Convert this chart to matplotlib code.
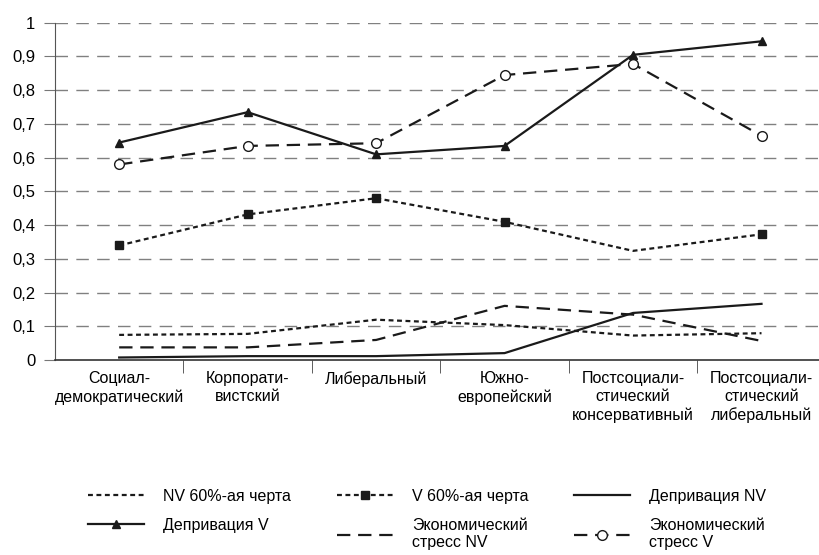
import numpy as np
import matplotlib
matplotlib.use('Agg')
import matplotlib.pyplot as plt
from matplotlib.ticker import FuncFormatter, FixedLocator

plt.rcParams['font.family'] = ['Liberation Sans', 'DejaVu Sans']

categories = ['Социал-\nдемократический', 'Корпорати-\nвистский', 'Либеральный',
              'Южно-\nевропейский', 'Постсоциали-\nстический\nконсервативный',
              'Постсоциали-\nстический\nлиберальный']

nv_60 = [0.075, 0.078, 0.12, 0.104, 0.073, 0.08]
v_60 = [0.34, 0.432, 0.48, 0.41, 0.324, 0.373]
depr_nv = [0.008, 0.012, 0.012, 0.021, 0.14, 0.167]
depr_v = [0.645, 0.735, 0.61, 0.635, 0.905, 0.945]
stress_nv = [0.038, 0.038, 0.06, 0.161, 0.135, 0.057]
stress_v = [0.58, 0.635, 0.643, 0.845, 0.878, 0.665]

x = np.arange(len(categories))

fig = plt.figure(figsize=(8.2, 5.55), dpi=100)
ax = fig.add_axes([0.067, 0.351, 0.94, 0.608])

lw = 1.6
dot = (0, (2.2, 1.6))
dash = (0, (6, 3.5))
c = '#1a1a1a'

l1, = ax.plot(x, nv_60, color=c, lw=lw, ls=dot, label='NV 60%-ая черта')
l2, = ax.plot(x, v_60, color=c, lw=lw, ls=dot, marker='s', ms=6,
              markevery=[0, 1, 2, 3, 5], label='V 60%-ая черта')
l3, = ax.plot(x, depr_nv, color=c, lw=lw, label='Депривация NV')
l4, = ax.plot(x, depr_v, color=c, lw=lw, marker='^', ms=6, label='Депривация V')
l5, = ax.plot(x, stress_nv, color=c, lw=lw, ls=dash, label='Экономический\nстресс NV')
l6, = ax.plot(x, stress_v, color=c, lw=lw, ls=dash, marker='o', ms=7,
              mfc='white', mec=c, mew=1.0, label='Экономический\nстресс V')

ax.set_xlim(-0.5, 5.5)
ax.set_ylim(0, 1)
ax.set_yticks(np.arange(0, 1.01, 0.1))


def fmt(v, p):
    if abs(v) < 1e-9:
        return '0'
    if abs(v - 1) < 1e-9:
        return '1'
    return ('%.1f' % v).replace('.', ',')


ax.yaxis.set_major_formatter(FuncFormatter(fmt))
for yv in np.arange(0.1, 1.01, 0.1):
    ax.axhline(yv, color='#808080', lw=1.0, ls=(0, (9, 6)), zorder=0)

ax.set_xticks(x)
ax.set_xticklabels(categories, fontsize=11.5, linespacing=1.25)
ax.xaxis.set_minor_locator(FixedLocator(np.arange(0.5, 5.5, 1)))
ax.tick_params(axis='x', which='major', length=0, pad=8)
ax.tick_params(axis='x', which='minor', length=9, color='#444444', direction='out')
ax.tick_params(axis='y', length=8, color='#777777', labelsize=12, pad=6)

for s in ['top', 'right']:
    ax.spines[s].set_visible(False)
ax.spines['left'].set_color('#555555')
ax.spines['bottom'].set_color('#333333')
ax.spines['bottom'].set_linewidth(1.2)

handles = [l1, l4, l2, l5, l3, l6]
fig.legend(handles=handles, labels=[h.get_label() for h in handles],
           loc='center', bbox_to_anchor=(0.521, 0.064), ncol=3, frameon=False,
           fontsize=11.5, handlelength=3.5, handletextpad=1.2, columnspacing=2.85,
           labelspacing=0.9)

fig.savefig('out.png', dpi=100)
